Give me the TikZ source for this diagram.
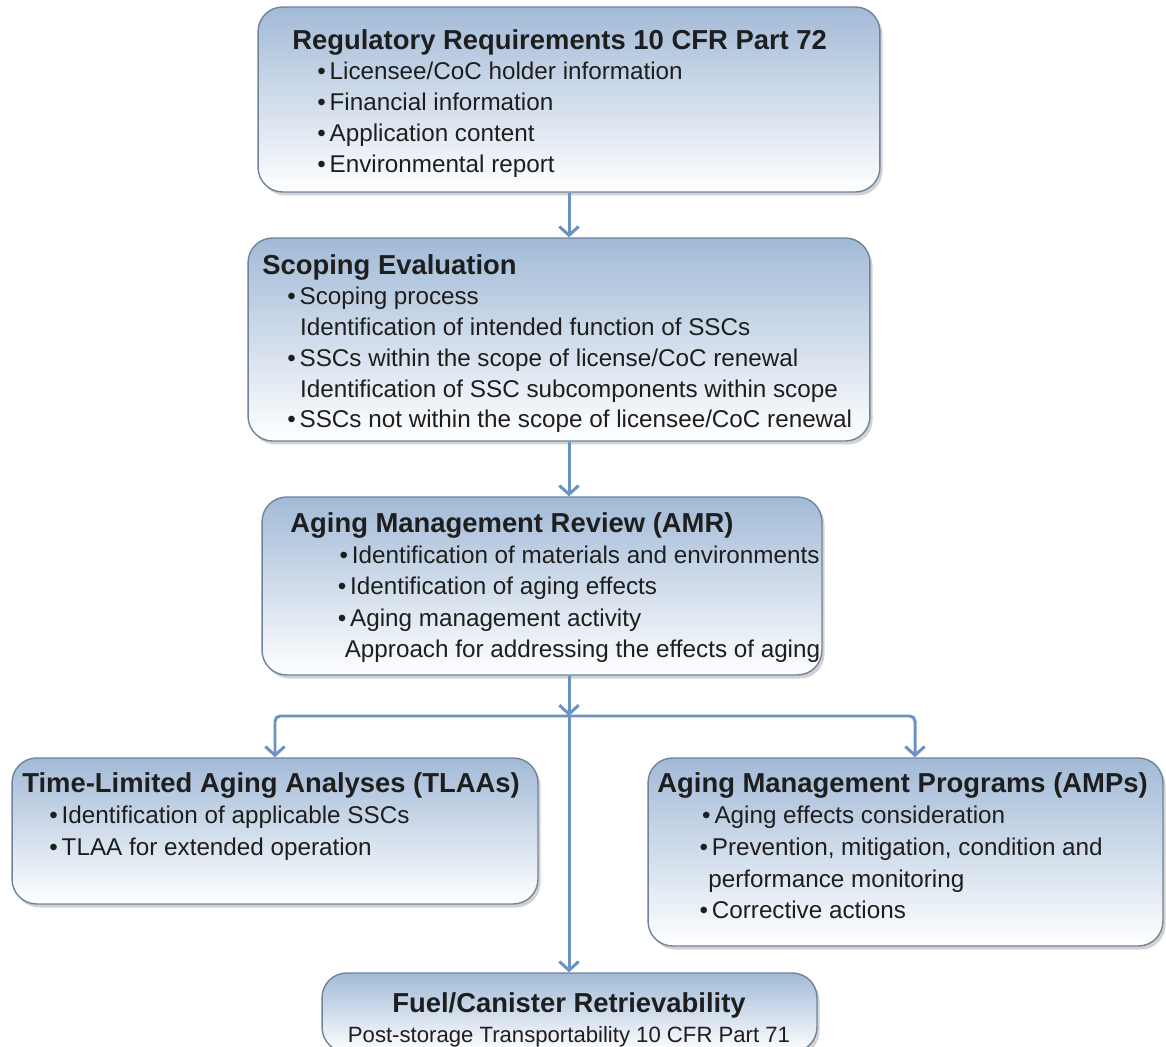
\documentclass[tikz,border=0pt]{standalone}
\usepackage{fontspec}
\setmainfont{Liberation Sans}
\usetikzlibrary{arrows.meta,shadows,positioning}

\definecolor{boxtop}{HTML}{A2BAD7}
\definecolor{boxedge}{HTML}{6F849B}
\definecolor{flow}{HTML}{6A92C2}
\definecolor{ink}{HTML}{1E1E1E}

% box heading and list lines
\newcommand{\hd}[1]{{\fontsize{15.6}{19}\selectfont\bfseries #1}}
\newcommand{\itm}[2]{\hspace*{#1}\textbullet\hspace{2.2pt}#2}
\newcommand{\cnt}[2]{\hspace*{#1}#2}

\begin{document}
\begin{tikzpicture}[x=0.02cm,y=-0.02cm,
  stage/.style={draw=boxedge, line width=0.8pt, rounded corners=14pt,
    top color=boxtop, bottom color=white, inner sep=0pt,
    drop shadow={shadow xshift=1.5pt, shadow yshift=-2pt, opacity=0.35}},
  txt/.style={anchor=north west, align=left, inner sep=0pt, text=ink,
    font=\fontsize{13.8}{17.5}\selectfont},
  link/.style={draw=flow, line width=1.7pt, rounded corners=3pt,
    -{Straight Barb[length=5pt,width=11pt]}}]
\fill[white] (0,0) rectangle (1166,1047);
\clip (0,0) rectangle (1166,1047);

% boxes
\node[stage, minimum width=12.44cm, minimum height=3.70cm] (reg) at (569,99.5) {};
\node[stage, minimum width=12.44cm, minimum height=4.06cm] (scope) at (559,339.5) {};
\node[stage, minimum width=11.20cm, minimum height=3.56cm] (amr) at (542,586) {};
\node[stage, minimum width=10.52cm, minimum height=2.92cm] (tlaa) at (275,831) {};
\node[stage, minimum width=10.30cm, minimum height=3.76cm] (amp) at (905.5,852) {};
\node[stage, minimum width=9.90cm, minimum height=1.58cm] (fuel) at (569.5,1012.5) {};

% box texts
\node[txt] (regtxt) at (292,29) {\hd{Regulatory Requirements 10 CFR Part 72}\\
  \itm{14.2pt}{Licensee/CoC holder information}\\
  \itm{14.2pt}{Financial information}\\
  \itm{14.2pt}{Application content}\\
  \itm{14.2pt}{Environmental report}};
\node[txt] (scopetxt) at (262,254) {\hd{Scoping Evaluation}\\
  \itm{14.2pt}{Scoping process}\\
  \cnt{21.5pt}{Identification of intended function of SSCs}\\
  \itm{14.2pt}{SSCs within the scope of license/CoC renewal}\\
  \cnt{21.5pt}{Identification of SSC subcomponents within scope}\\
  \itm{14.2pt}{SSCs not within the scope of licensee/CoC renewal}};
\node[txt, font=\fontsize{13.8}{17.8}\selectfont] (amrtxt) at (290,512) {\hd{Aging Management Review (AMR)}\\
  \itm{28pt}{Identification of materials and environments}\\
  \itm{27pt}{Identification of aging effects}\\
  \itm{27pt}{Aging management activity}\\
  \cnt{31pt}{Approach for addressing the effects of aging}};
\node[txt, font=\fontsize{13.8}{18}\selectfont] (tlaatxt) at (22,772) {\hd{Time-Limited Aging Analyses (TLAAs)}\\
  \itm{15.4pt}{Identification of applicable SSCs}\\
  \itm{15.4pt}{TLAA for extended operation}};
\node[txt, font=\fontsize{13.8}{18}\selectfont] (amptxt) at (657,772) {\hd{Aging Management Programs (AMPs)}\\
  \itm{25.5pt}{Aging effects consideration}\\
  \itm{24pt}{Prevention, mitigation, condition and}\\
  \cnt{29pt}{performance monitoring}\\
  \itm{24pt}{Corrective actions}};
\node[txt, anchor=north, align=center] (fueltxt) at (569,992) {\hd{Fuel/Canister Retrievability}\\
  {\fontsize{12.6}{16}\selectfont Post-storage Transportability 10 CFR Part 71}};

% flow lines
\coordinate (hub) at (569,716);
\draw[link] (reg.south -| hub) -- (scope.north -| hub);
\draw[link] (scope.south -| hub) -- (amr.north -| hub);
\draw[link] (amr.south -| hub) -- (hub);
\draw[link] (hub) -| (tlaa.north);
\draw[link] (hub) -| ([xshift=0.19cm]amp.north);
\draw[link] (hub) -- (fuel.north -| hub);
\end{tikzpicture}
\end{document}
